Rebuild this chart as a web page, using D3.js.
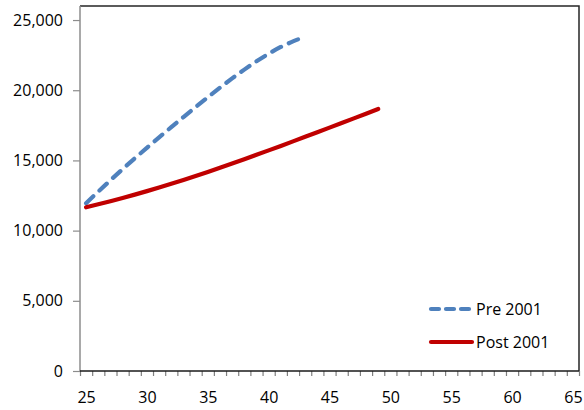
<!DOCTYPE html>
<html>
<head>
<meta charset="utf-8">
<script src="https://cdn.jsdelivr.net/npm/d3@7"></script>
<style>
  html, body { margin: 0; padding: 0; background: #fff; }
  svg { display: block; }
  text { font-family: "Open Sans", "Noto Sans", sans-serif; fill: #000; }
</style>
</head>
<body>
<svg id="chart" width="584" height="410"></svg>
<script>
// ---- Data ----
const preAges = [25,26,27,28,29,30,31,32,33,34,35,36,37,38,39,40,41,42,43];
const preValues = [11950,12780,13590,14380,15150,15900,16640,17370,18090,18800,19500,20180,20840,21470,22060,22600,23080,23480,23820];
const postAges = [25,26,27,28,29,30,31,32,33,34,35,36,37,38,39,40,41,42,43,44,45,46,47,48,49];
const postValues = [11660,11875,12097,12327,12565,12812,13068,13333,13607,13889,14179,14476,14779,15087,15399,15715,16034,16356,16680,17006,17334,17664,17996,18330,18666];
const xTickLabels = [25,30,35,40,45,50,55,60,65];
const yTicks = [0,5000,10000,15000,20000,25000];
const seriesNames = ["Pre 2001", "Post 2001"];
const seriesColors = ["#4F81BD", "#C00000"];

// ---- Layout ----
const pLeft = 80, pRight = 579, pTop = 6, pBottom = 371;
const svg = d3.select("#chart");

// category axis: 41 categories (25..65), labels centred between tick marks
const x = d3.scaleLinear().domain([24.5, 65.5]).range([pLeft, pRight]);
const y = d3.scaleLinear().domain([0, 26000]).range([pBottom, pTop]);

// top & right border
svg.append("path")
  .attr("d", `M${pLeft},${pTop}H${pRight}V${pBottom}`)
  .attr("fill", "none").attr("stroke", "#262626").attr("stroke-width", 1.5);

// Y axis
const yAxis = svg.append("g").attr("transform", `translate(${pLeft},0)`)
  .call(d3.axisLeft(y).tickValues(yTicks).tickSize(7).tickPadding(10).tickFormat(d3.format(",")));
yAxis.select(".domain").attr("stroke", "#8c8c8c").attr("stroke-width", 1.5).attr("d", `M0,${pTop}V${pBottom}`);
yAxis.selectAll(".tick line").attr("stroke", "#8c8c8c").attr("stroke-width", 1.2);
yAxis.selectAll("text").attr("font-size", 16).attr("font-family", "Open Sans").attr("fill", "#000");

// X axis tick marks at category boundaries
const boundaries = d3.range(24.5, 65.6, 1);
const xTickAxis = svg.append("g").attr("transform", `translate(0,${pBottom})`)
  .call(d3.axisBottom(x).tickValues(boundaries).tickSize(5).tickFormat(""));
xTickAxis.select(".domain").remove();
xTickAxis.selectAll(".tick line").attr("stroke", "#7f7f7f").attr("stroke-width", 1.2);

// X axis labels
const xLabAxis = svg.append("g").attr("transform", `translate(0,${pBottom})`)
  .call(d3.axisBottom(x).tickValues(xTickLabels).tickSize(0).tickPadding(20.5).tickFormat(d3.format("d")));
xLabAxis.select(".domain").attr("stroke", "#1a1a1a").attr("stroke-width", 1.6).attr("d", `M${pLeft},0H${pRight}`);
xLabAxis.selectAll("text").attr("font-size", 16).attr("font-family", "Open Sans").attr("fill", "#000");

// Lines
const line = d3.line().x(d => x(d[0])).y(d => y(d[1])).curve(d3.curveMonotoneX);
const preData = preAges.map((a, i) => [a, preValues[i]]);
const postData = postAges.map((a, i) => [a, postValues[i]]);

svg.append("path").datum(preData)
  .attr("d", line).attr("fill", "none")
  .attr("stroke", seriesColors[0]).attr("stroke-width", 4.2)
  .attr("stroke-dasharray", "10,8.5").attr("stroke-linecap", "round").attr("stroke-linejoin", "round");

svg.append("path").datum(postData)
  .attr("d", line).attr("fill", "none")
  .attr("stroke", seriesColors[1]).attr("stroke-width", 4.2)
  .attr("stroke-linecap", "round").attr("stroke-linejoin", "round");

// Legend
const legend = svg.append("g");
const legY = [309, 342];
seriesNames.forEach((name, i) => {
  legend.append("line")
    .attr("x1", 431).attr("x2", 472).attr("y1", legY[i]).attr("y2", legY[i])
    .attr("stroke", seriesColors[i]).attr("stroke-width", 4.2)
    .attr("stroke-linecap", "round")
    .attr("stroke-dasharray", i === 0 ? "8,7" : null);
  legend.append("text")
    .attr("x", 476).attr("y", legY[i]).attr("dy", "0.36em")
    .attr("font-size", 16).text(name);
});
</script>
</body>
</html>
